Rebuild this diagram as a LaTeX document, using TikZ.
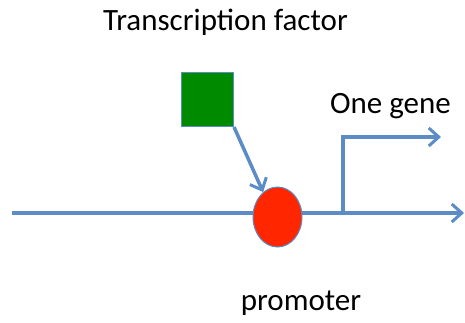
\documentclass[tikz,border=0pt]{standalone}
\usepackage{fontspec}
\setmainfont{Carlito}
\usetikzlibrary{arrows.meta,shapes.geometric}
\definecolor{lineblue}{HTML}{5B8CC6}
\definecolor{tfgreen}{HTML}{008A00}
\definecolor{promred}{HTML}{FF2600}
\tikzset{
  conn/.style={draw=lineblue, line width=3.5pt, -{Straight Barb[length=10pt,width=18pt,line width=3pt]}},
  lbl/.style={anchor=base, inner sep=0pt, font=\fontsize{31}{36}\selectfont},
}
\begin{document}
\begin{tikzpicture}[x=1pt,y=-1pt]
\useasboundingbox (0,0) rectangle (465,322);
\coordinate (start) at (12,213);
\coordinate (end) at (464,213);
\coordinate (branch) at (343,213);
\coordinate (corner) at (343,137);
\coordinate (geneend) at (441,137);
\draw[conn] (start) -- (end);
\draw[conn] (branch) -- (corner) -- (geneend);
\node[draw=lineblue, line width=1pt, fill=tfgreen, minimum width=52pt, minimum height=54pt, inner sep=0pt, anchor=north west] (tf) at (181,72) {};
\node[ellipse, draw=lineblue, line width=1pt, fill=promred, minimum width=49pt, minimum height=60pt, inner sep=0pt] (prom) at (277.5,217) {};
\draw[conn] (tf.south east) -- (prom.120);
\node[lbl] (tftext) at (225.5,30) {Transcription factor};
\node[lbl] (genetext) at (390.5,113) {One gene};
\node[lbl] (promtext) at (301,310) {promoter};
\end{tikzpicture}
\end{document}
